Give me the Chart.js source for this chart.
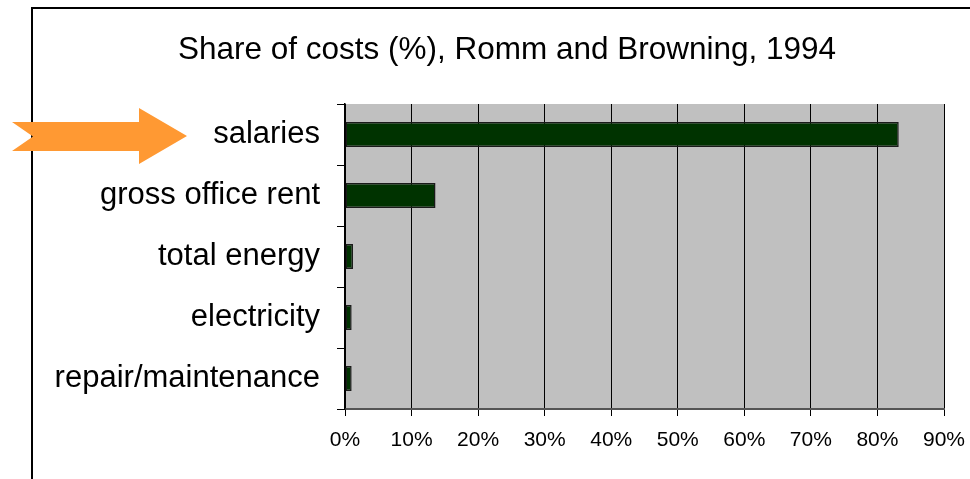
<!DOCTYPE html>
<html>
<head>
<meta charset="utf-8">
<script src="https://cdn.jsdelivr.net/npm/chart.js@4"></script>
<style>
  html, body { margin: 0; padding: 0; background: #fff; }
  #wrap { width: 970px; height: 479px; position: relative; }
</style>
</head>
<body>
<div id="wrap"><canvas id="chart" width="970" height="479"></canvas></div>
<script>
// data
const categories = ['salaries', 'gross office rent', 'total energy', 'electricity', 'repair/maintenance'];
const shares = [83.2, 13.6, 1.2, 1.0, 1.0];
const xTicks = [0, 10, 20, 30, 40, 50, 60, 70, 80, 90];
const titleText = 'Share of costs (%), Romm and Browning, 1994';

// grey plot background + frame + title + arrow
const decor = {
  id: 'decor',
  beforeDraw(chart) {
    const { ctx, chartArea: a } = chart;
    ctx.save();
    ctx.fillStyle = '#c0c0c0';
    ctx.fillRect(a.left, a.top, a.right - a.left, a.bottom - a.top);
    // outer frame (runs off right/bottom)
    ctx.strokeStyle = '#000';
    ctx.lineWidth = 2;
    ctx.beginPath();
    ctx.moveTo(32, 480);
    ctx.lineTo(32, 8);
    ctx.lineTo(972, 8);
    ctx.stroke();
    // title, condensed to the original width
    ctx.font = '32px "Liberation Sans", Arial, sans-serif';
    ctx.fillStyle = '#000';
    ctx.textBaseline = 'middle';
    const w = ctx.measureText(titleText).width;
    ctx.translate(507, 50);
    ctx.scale(658 / w, 1);
    ctx.textAlign = 'center';
    ctx.fillText(titleText, 0, 0);
    ctx.restore();

    // orange arrow pointing at salaries
    ctx.save();
    ctx.fillStyle = '#ff9933';
    ctx.beginPath();
    ctx.moveTo(12, 122);
    ctx.lineTo(139, 122);
    ctx.lineTo(139, 108);
    ctx.lineTo(187, 136);
    ctx.lineTo(139, 164);
    ctx.lineTo(139, 151);
    ctx.lineTo(12, 151);
    ctx.lineTo(33, 136.5);
    ctx.closePath();
    ctx.fill();
    ctx.restore();
  }
};

new Chart(document.getElementById('chart'), {
  type: 'bar',
  data: {
    labels: categories,
    datasets: [{
      data: shares,
      backgroundColor: '#003300',
      borderColor: '#1a1a1a',
      borderWidth: 1.5,
      borderSkipped: false,
      barPercentage: 0.41,
      categoryPercentage: 1
    }]
  },
  options: {
    indexAxis: 'y',
    responsive: false,
    animation: false,
    layout: { padding: { left: 0, top: 104, right: 26, bottom: 0 } },
    plugins: {
      legend: { display: false },
      title: { display: false },
      tooltip: { enabled: false }
    },
    scales: {
      x: {
        min: 0,
        max: 90,
        afterBuildTicks(scale) { scale.ticks = xTicks.map(v => ({ value: v })); },
        afterFit(scale) {
          scale.height = 70;
          scale.paddingLeft = 0;
          scale.paddingRight = 0;
        },
        grid: { color: '#000', lineWidth: 1, tickLength: 7, drawTicks: true },
        border: { color: '#555', width: 2 },
        ticks: {
          color: '#000',
          padding: 12,
          maxRotation: 0,
          font: { family: '"Liberation Sans", Arial, sans-serif', size: 21 },
          callback: v => v + '%'
        }
      },
      y: {
        afterFit(scale) { scale.width = 345; },
        grid: { drawOnChartArea: false, color: '#000', tickLength: 8, offset: true },
        border: { color: '#000', width: 1.5 },
        ticks: {
          color: '#000',
          padding: 17,
          font: { family: '"Liberation Sans", Arial, sans-serif', size: 31 }
        }
      }
    }
  },
  plugins: [decor]
});
</script>
</body>
</html>
